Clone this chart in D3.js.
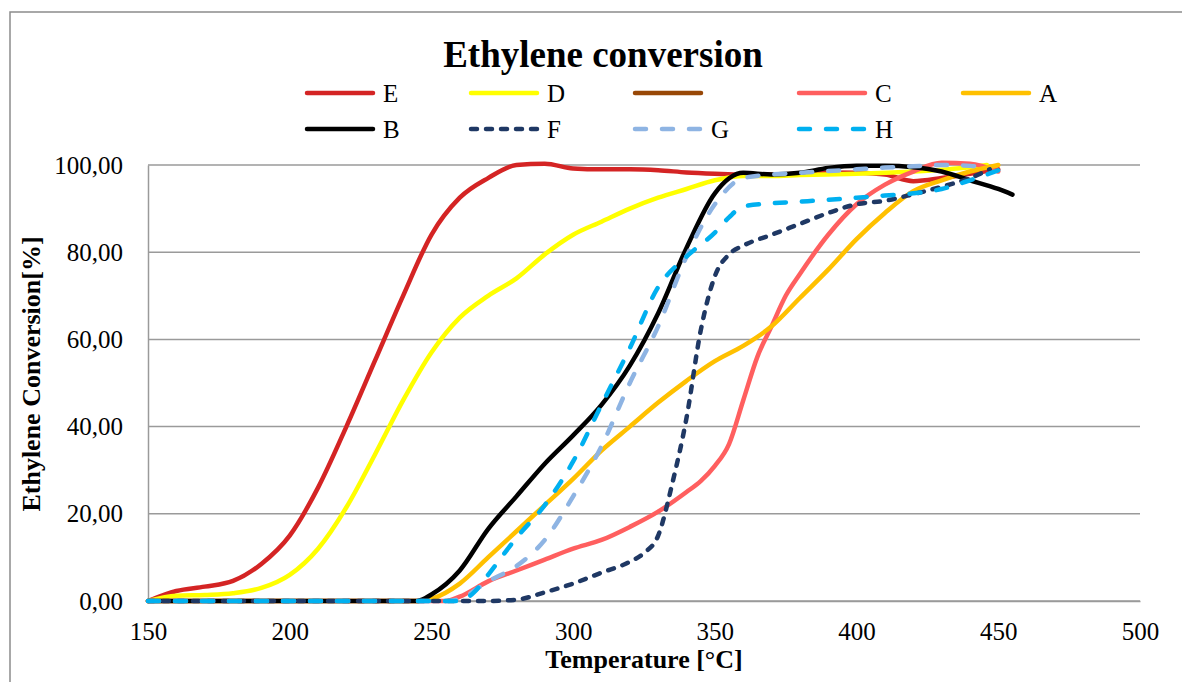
<!DOCTYPE html>
<html>
<head>
<meta charset="utf-8">
<script src="https://cdn.jsdelivr.net/npm/d3@7"></script>
<style>
  body { margin: 0; background: #fff; }
  svg { display: block; }
  text { font-family: "Liberation Serif", "Times New Roman", serif; fill: #000; }
</style>
</head>
<body>
<div id="chart"></div>
<script>
// temperatures (°C) and conversion (%)
const tE = [150, 160, 170, 180, 190, 200, 210, 220, 230, 240, 250, 260, 270, 280, 290, 300, 310, 320, 330, 340, 350, 360, 370, 380, 390, 400, 410, 420, 430, 440, 450]
const vE = [0, 2.3, 3.3, 4.6, 8.5, 15, 26, 40, 55, 70, 84, 92.5, 97, 100, 100.3, 99.2, 99, 99, 98.8, 98.3, 98, 97.8, 97.8, 98, 98.3, 98.2, 97.8, 96.3, 97, 98, 99]

const tD = [150, 160, 170, 180, 190, 200, 210, 220, 230, 240, 250, 260, 270, 280, 290, 300, 310, 320, 330, 340, 350, 360, 370, 380, 400, 420, 440, 446]
const vD = [0, 1.2, 1.4, 1.8, 3, 6, 12, 21.5, 33.5, 46, 57, 65, 70, 74, 79.5, 84, 87, 90, 92.5, 94.5, 96.5, 97.5, 97.5, 97.7, 98, 98.5, 99.5, 100]

const tC = [150, 255, 260, 270, 280, 290, 300, 310, 320, 330, 340, 345, 350, 355, 360, 365, 370, 375, 380, 390, 400, 410, 420, 430, 440, 450]
const vC = [0, 0, 1, 4.5, 7, 9.5, 12, 14, 17, 20.5, 25, 27.5, 31, 36, 46, 56, 63, 70, 75, 84, 91, 95.5, 98.5, 100.5, 100.3, 98.5]

const tA = [150, 245, 250, 260, 270, 280, 290, 300, 310, 320, 330, 340, 350, 360, 370, 380, 390, 400, 410, 420, 430, 440, 450]
const vA = [0, 0, 0.5, 4, 10, 16, 22, 28, 34.5, 40, 45.5, 50.5, 55, 58.5, 63, 69.5, 76, 83, 89, 94, 96.5, 98.5, 100]

const tB = [150, 245, 250, 260, 270, 280, 290, 300, 310, 320, 330, 340, 350, 360, 370, 380, 390, 400, 410, 420, 430, 440, 450, 455]
const vB = [0, 0, 1.5, 7, 16.5, 24, 31.5, 38, 45, 54, 66, 81, 93.5, 98.2, 97.8, 98.2, 99.3, 99.8, 99.8, 99.5, 98.5, 96.5, 94.5, 93.2]

const tF = [150, 270, 280, 290, 300, 310, 320, 325, 330, 335, 340, 345, 350, 355, 360, 370, 380, 390, 400, 410, 420, 430, 440, 447]
const vF = [0, 0, 0.3, 2, 4, 6.5, 9, 11, 15, 27, 42, 62, 74.5, 79.5, 81.5, 84, 86.5, 89, 91, 91.8, 93.3, 95, 97, 99]

const tG = [150, 255, 260, 270, 280, 290, 300, 310, 320, 330, 340, 350, 360, 370, 380, 390, 400, 410, 420, 430, 440, 445]
const vG = [0, 0, 0.5, 4.5, 8, 14, 24, 35.5, 50, 63, 79, 91, 97, 97.8, 98.2, 98.6, 99, 99.4, 99.7, 100, 99.8, 99.5]

const tH = [150, 260, 265, 270, 280, 290, 300, 310, 320, 330, 340, 350, 355, 360, 370, 380, 390, 400, 410, 420, 430, 440, 455]
const vH = [0, 0, 2, 6, 14.5, 22, 32, 45, 58, 72, 79, 84.5, 88, 90.5, 91.2, 91.6, 92, 92.5, 93, 93.5, 94.5, 96.5, 100]

const xTicks = [150, 200, 250, 300, 350, 400, 450, 500]
const yTicks = [0, 20, 40, 60, 80, 100]

// drawing order: first drawn ends up underneath
const series = [
    { name: 'E', t: tE, v: vE, color: '#d42424', dash: null, row: 0, col: 0 },
    { name: 'D', t: tD, v: vD, color: '#ffff00', dash: null, row: 0, col: 1 },
    { name: '', t: [], v: [], color: '#984807', dash: null, row: 0, col: 2 },
    { name: 'C', t: tC, v: vC, color: '#ff5f5f', dash: null, row: 0, col: 3 },
    { name: 'A', t: tA, v: vA, color: '#ffc000', dash: null, row: 0, col: 4 },
    { name: 'B', t: tB, v: vB, color: '#000000', dash: null, row: 1, col: 0 },
    { name: 'F', t: tF, v: vF, color: '#1f3864', dash: '6,9', row: 1, col: 1 },
    { name: 'G', t: tG, v: vG, color: '#8eb4e3', dash: '11,16', row: 1, col: 2 },
    { name: 'H', t: tH, v: vH, color: '#00b0f0', dash: '11,16', row: 1, col: 3 }
]

const width = 1182, height = 682
const margin = ({ top: 165, right: 42, bottom: 81, left: 148 })

const svg = d3.select('#chart')
    .append('svg')
    .attr('width', width)
    .attr('height', height)

// outer chart frame
svg.append('rect')
    .attr('x', 10).attr('y', 12)
    .attr('width', width + 20).attr('height', height + 20)
    .attr('fill', 'none')
    .attr('stroke', '#8c8c8c')
    .attr('stroke-width', 1.5)

const x = d3.scaleLinear()
    .domain([150, 500])
    .range([margin.left, width - margin.right])
const y = d3.scaleLinear()
    .domain([0, 100])
    .range([height - margin.bottom, margin.top])

// gridlines
svg.append('g')
    .selectAll('line')
    .data(yTicks)
    .join('line')
    .attr('x1', x(150)).attr('x2', x(500))
    .attr('y1', d => y(d)).attr('y2', d => y(d))
    .attr('stroke', '#9a9a9a')
    .attr('stroke-width', 1.5)

const xAxis = g => g
    .attr('transform', `translate(0,${y(0)})`)
    .call(d3.axisBottom(x).tickValues(xTicks).tickSize(0).tickPadding(21))
    .call(g => g.select('.domain').attr('stroke', '#9a9a9a').attr('stroke-width', 1.5))
const yAxis = g => g
    .attr('transform', `translate(${x(150)},0)`)
    .call(d3.axisLeft(y).tickValues(yTicks).tickSize(0).tickPadding(25)
        .tickFormat(d => d3.format('.2f')(d).replace('.', ',')))
    .call(g => g.select('.domain').attr('stroke', '#9a9a9a').attr('stroke-width', 1.5))

svg.append('g').attr('class', 'x-axis').call(xAxis)
svg.append('g').attr('class', 'y-axis').call(yAxis)
svg.selectAll('.tick text')
    .attr('font-family', '"Liberation Serif", serif')
    .attr('font-size', 25)
    .attr('fill', '#000')

const line = d3.line()
    .x(d => x(d[0]))
    .y(d => y(d[1]))
    .curve(d3.curveMonotoneX)

svg.append('g')
    .selectAll('path')
    .data(series.filter(s => s.t.length))
    .join('path')
    .attr('fill', 'none')
    .attr('stroke', s => s.color)
    .attr('stroke-width', 4.5)
    .attr('stroke-linejoin', 'round')
    .attr('stroke-linecap', 'round')
    .attr('stroke-dasharray', s => s.dash)
    .attr('d', s => line(s.t.map((t, i) => [t, s.v[i]])))

// title
svg.append('text')
    .attr('x', 603).attr('y', 67)
    .attr('text-anchor', 'middle')
    .attr('font-size', 37)
    .attr('font-weight', 'bold')
    .text('Ethylene conversion')

// axis titles
svg.append('text')
    .attr('x', 644).attr('y', 668)
    .attr('text-anchor', 'middle')
    .attr('font-size', 26)
    .attr('font-weight', 'bold')
    .text('Temperature [°C]')
svg.append('text')
    .attr('transform', 'translate(40,374) rotate(-90)')
    .attr('text-anchor', 'middle')
    .attr('font-size', 26)
    .attr('font-weight', 'bold')
    .text('Ethylene Conversion[%]')

// legend
const legend = svg.append('g')
    .selectAll('g')
    .data(series)
    .join('g')
    .attr('transform', s => `translate(${307 + s.col * 164},${93 + s.row * 36})`)
legend.append('line')
    .attr('x1', 0).attr('x2', 66)
    .attr('stroke', s => s.color)
    .attr('stroke-width', 4.5)
    .attr('stroke-linecap', 'round')
    .attr('stroke-dasharray', s => s.dash)
legend.append('text')
    .attr('x', 76).attr('y', 9)
    .attr('font-size', 25)
    .text(s => s.name)
</script>
</body>
</html>
